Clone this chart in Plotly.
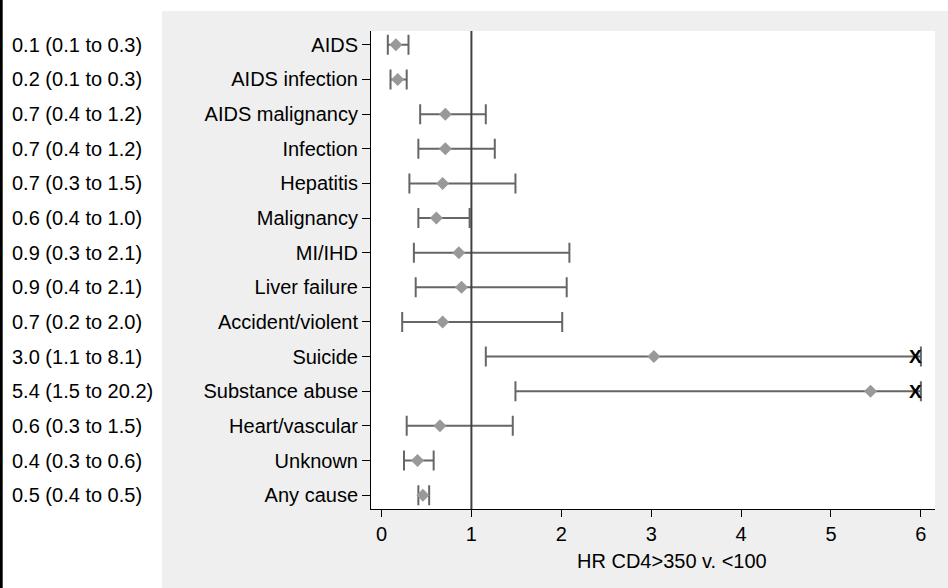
import plotly.graph_objects as go

causes = ["AIDS", "AIDS infection", "AIDS malignancy", "Infection", "Hepatitis",
          "Malignancy", "MI/IHD", "Liver failure", "Accident/violent", "Suicide",
          "Substance abuse", "Heart/vascular", "Unknown", "Any cause"]
hr = [0.16, 0.18, 0.71, 0.71, 0.68, 0.61, 0.86, 0.89, 0.68, 3.03, 5.44, 0.65, 0.40, 0.46]
lo = [0.07, 0.10, 0.43, 0.41, 0.31, 0.41, 0.36, 0.38, 0.23, 1.16, 1.49, 0.28, 0.25, 0.41]
hi = [0.30, 0.28, 1.16, 1.26, 1.49, 0.98, 2.09, 2.06, 2.01, 8.1, 20.2, 1.46, 0.58, 0.53]
estimate_text = ["0.1 (0.1 to 0.3)", "0.2 (0.1 to 0.3)", "0.7 (0.4 to 1.2)", "0.7 (0.4 to 1.2)",
                 "0.7 (0.3 to 1.5)", "0.6 (0.4 to 1.0)", "0.9 (0.3 to 2.1)", "0.9 (0.4 to 2.1)",
                 "0.7 (0.2 to 2.0)", "3.0 (1.1 to 8.1)", "5.4 (1.5 to 20.2)", "0.6 (0.3 to 1.5)",
                 "0.4 (0.3 to 0.6)", "0.5 (0.4 to 0.5)"]
x_ticks = [0, 1, 2, 3, 4, 5, 6]
x_max = 6
ref_value = 1
x_title = "HR CD4>350 v. <100"

FONT = "Liberation Sans, Arial, sans-serif"
FS = 20
W, H = 948, 588
L, R, T, B = 371, 13, 31, 79
pw, ph = W - L - R, H - T - B

def px(xpix):
    return (xpix - L) / pw

def py(ypix):
    return (H - B - ypix) / ph

idx = list(range(len(causes)))
hi_clip = [min(h, x_max) for h in hi]

fig = go.Figure()
fig.add_trace(go.Scatter(
    x=hr, y=idx, mode="markers",
    marker=dict(symbol="diamond", size=10, color="#999999", line=dict(width=0)),
    error_x=dict(type="data", symmetric=False,
                 array=[c - v for c, v in zip(hi_clip, hr)],
                 arrayminus=[v - l for v, l in zip(hr, lo)],
                 color="#666666", thickness=2, width=10),
    showlegend=False, hoverinfo="skip"))

annotations = []
for i, t in enumerate(estimate_text):
    annotations.append(dict(x=px(10), xref="paper", y=i, yref="y", text=t, showarrow=False,
                            xanchor="left", yanchor="middle",
                            font=dict(family=FONT, size=FS, color="black")))
for i, (h, c) in enumerate(zip(hi, hi_clip)):
    if h > x_max:
        annotations.append(dict(x=c, xref="x", y=i, yref="y", text="<b>X</b>", showarrow=False,
                                xanchor="center", yanchor="middle", xshift=-5,
                                font=dict(family=FONT, size=19, color="black")))
annotations.append(dict(x=px(672), xref="paper", y=py(561), yref="paper", text=x_title,
                        showarrow=False, xanchor="center", yanchor="middle",
                        font=dict(family=FONT, size=FS, color="black")))

shapes = [
    dict(type="rect", xref="paper", yref="paper", x0=px(162), x1=px(W + 5), y0=py(11), y1=py(H + 5),
         fillcolor="#efefef", line=dict(width=0), layer="below"),
    dict(type="rect", xref="paper", yref="paper", x0=0, x1=1, y0=0, y1=1,
         fillcolor="white", line=dict(width=0), layer="below"),
    dict(type="rect", xref="paper", yref="paper", x0=px(-2), x1=px(2.7), y0=py(-5), y1=py(H + 5),
         fillcolor="black", line=dict(width=0), layer="below"),
    dict(type="line", xref="x", yref="paper", x0=ref_value, x1=ref_value, y0=0, y1=1,
         line=dict(color="#404040", width=2), layer="above"),
]

fig.update_layout(
    width=W, height=H, autosize=False,
    margin=dict(l=L, r=R, t=T, b=B, pad=0),
    paper_bgcolor="white", plot_bgcolor="white",
    font=dict(family=FONT, size=FS, color="black"),
    shapes=shapes, annotations=annotations,
    xaxis=dict(range=[-0.117, 6.157], tickvals=x_ticks, ticks="outside", ticklen=7,
               tickcolor="black", tickwidth=1, showline=True, linecolor="black", linewidth=1,
               showgrid=False, zeroline=False, tickfont=dict(family=FONT, size=FS, color="black")),
    yaxis=dict(range=[13.4, -0.4], tickvals=idx, ticktext=causes, ticks="outside", ticklen=8,
               tickcolor="black", tickwidth=1, showline=True, linecolor="black", linewidth=1,
               showgrid=False, zeroline=False, tickfont=dict(family=FONT, size=FS, color="black")),
)

fig.write_html("out.html", config={"displayModeBar": False},
               post_script="document.body.style.margin='0';document.body.style.overflow='hidden';")
